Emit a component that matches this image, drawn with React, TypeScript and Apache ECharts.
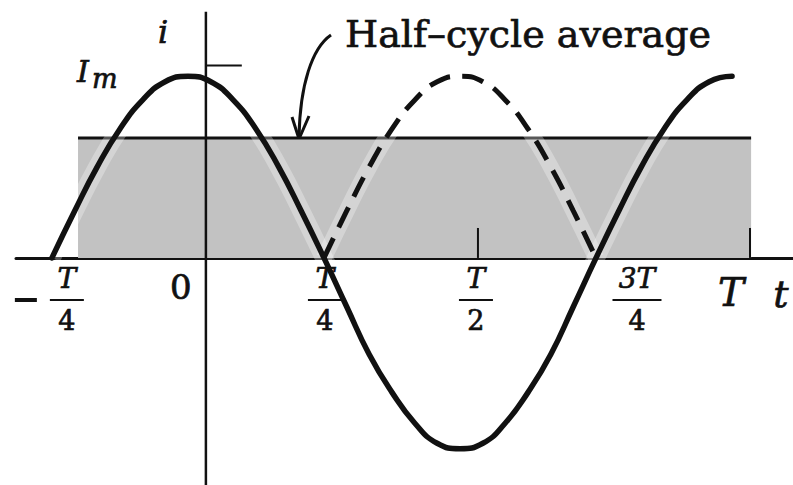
import { useEffect, useRef } from 'react';
import * as echarts from 'echarts';

// Time in periods (T), current in units of the peak value Im.
const waveTimes = [
  -0.283, -0.241, -0.2, -0.158, -0.116, -0.075, -0.033, 0.009, 0.05, 0.092, 0.134,
  0.175, 0.217, 0.259, 0.3, 0.342, 0.384, 0.425, 0.467, 0.509, 0.55, 0.592,
  0.634, 0.675, 0.717, 0.759, 0.8, 0.842, 0.884, 0.925, 0.967,
];
const waveCurrents = [
  0, 0.26, 0.5, 0.71, 0.87, 0.97, 1.0, 0.97, 0.87, 0.71, 0.5,
  0.26, 0, -0.27, -0.53, -0.74, -0.91, -1.02, -1.05, -1.02, -0.91, -0.74,
  -0.53, -0.27, 0, 0.26, 0.5, 0.71, 0.87, 0.97, 1.0,
];

// Negative half-cycle flipped upward (drawn dashed).
const flippedTimes = [
  0.217, 0.259, 0.3, 0.342, 0.384, 0.425, 0.467, 0.509, 0.55, 0.592, 0.634, 0.675, 0.717,
];
const flippedCurrents = [0, 0.26, 0.5, 0.71, 0.87, 0.97, 1.0, 0.97, 0.87, 0.71, 0.5, 0.26, 0];

// Half-cycle average band.
const averageLevel = 0.66;
const averageStart = -0.235;
const averageEnd = 1.002;

// Peak marker on the i axis.
const peakMarkLevel = 1.06;
const peakMarkEnd = 0.066;

// Time-axis labels.
const tickValues = [-0.25, 0, 0.25, 0.5, 0.75, 1];
const tickSigns = ['−', '', '', '', '', ''];
const tickNumerators = ['T', '0', 'T', 'T', '3T', 'T'];
const tickDenominators = ['4', '', '4', '2', '4', ''];
// Short tick marks standing on the time axis.
const markedTicks = [0.5, 1];
const markedTickHeight = 0.165;

// Axis extents.
const X_MIN = -0.349;
const X_MAX = 1.079;
const Y_MIN = -1.25;
const Y_MAX = 1.42;
const I_AXIS_TOP = 1.355;

const INK = '#111111';
const SERIF = '"DejaVu Serif", "Liberation Serif", serif';
// a faint outline thickens the glyphs a little
const HEAVY = { stroke: INK, lineWidth: 0.7 };

// Horizontal nudges (px) of each time label relative to its tick.
const labelShift = [-3, -25, -17, -2, 23, -19];

export default function App() {
  const ref = useRef<HTMLDivElement>(null);

  useEffect(() => {
    if (!ref.current) return;
    const chart = echarts.init(ref.current, undefined, { renderer: 'svg' });

    const wave = waveTimes.map((t, i) => [t, waveCurrents[i]]);
    const flipped = flippedTimes.map((t, i) => [t, flippedCurrents[i]]);

    const txt = (text: string, font: string, align = 'center') => ({
      text,
      font,
      fill: INK,
      ...HEAVY,
      align,
      verticalAlign: 'middle',
    });

    chart.setOption({
      animation: false,
      backgroundColor: '#ffffff',
      grid: { left: 16, right: 0, top: 0, bottom: 0, outerBoundsMode: 'none' },
      xAxis: {
        type: 'value',
        min: X_MIN,
        max: X_MAX,
        axisLine: { show: true, onZero: true, lineStyle: { color: INK, width: 3 } },
        axisTick: { show: false },
        axisLabel: { show: false },
        splitLine: { show: false },
      },
      yAxis: {
        type: 'value',
        min: Y_MIN,
        max: Y_MAX,
        axisLine: { show: false },
        axisTick: { show: false },
        axisLabel: { show: false },
        splitLine: { show: false },
      },
      series: [
        {
          // shaded average band with its top edge
          type: 'custom',
          silent: true,
          z: 1,
          clip: false,
          encode: { x: [0, 1], y: 2 },
          data: [[averageStart, averageEnd, averageLevel]],
          renderItem: (_p: any, api: any) => {
            const a = api.coord([api.value(0), api.value(2)]);
            const b = api.coord([api.value(1), 0]);
            return {
              type: 'group',
              children: [
                {
                  type: 'rect',
                  shape: { x: a[0], y: a[1], width: b[0] - a[0], height: b[1] - a[1] },
                  style: { fill: '#c2c2c2' },
                },
                {
                  type: 'line',
                  shape: { x1: a[0], y1: a[1], x2: b[0], y2: a[1] },
                  style: { stroke: INK, lineWidth: 3 },
                },
              ],
            };
          },
        },
        {
          type: 'line',
          silent: true,
          z: 2,
          smooth: true,
          showSymbol: false,
          data: wave,
          lineStyle: { color: 'rgba(255,255,255,0.3)', width: 18 },
        },
        {
          type: 'line',
          silent: true,
          z: 2,
          smooth: true,
          showSymbol: false,
          data: flipped,
          lineStyle: { color: 'rgba(255,255,255,0.3)', width: 16 },
        },
        {
          // i axis and peak marker
          type: 'line',
          silent: true,
          z: 3,
          showSymbol: false,
          data: [[0, I_AXIS_TOP], [0, Y_MIN]],
          lineStyle: { color: INK, width: 2.5 },
        },
        {
          type: 'line',
          silent: true,
          z: 3,
          showSymbol: false,
          data: [[0, peakMarkLevel], [peakMarkEnd, peakMarkLevel]],
          lineStyle: { color: INK, width: 2 },
        },
        {
          // short ticks on the time axis
          type: 'custom',
          silent: true,
          z: 3,
          clip: false,
          data: markedTicks.map((t) => [t, markedTickHeight]),
          renderItem: (_p: any, api: any) => {
            const top = api.coord([api.value(0), api.value(1)]);
            const base = api.coord([api.value(0), 0]);
            return {
              type: 'line',
              shape: { x1: top[0], y1: top[1], x2: base[0], y2: base[1] },
              style: { stroke: INK, lineWidth: 2 },
            };
          },
        },
        {
          type: 'line',
          name: 'i',
          silent: true,
          z: 4,
          smooth: true,
          showSymbol: false,
          data: wave,
          lineStyle: { color: INK, width: 5.5, cap: 'round' },
        },
        {
          type: 'line',
          name: '|i|',
          silent: true,
          z: 4,
          smooth: true,
          showSymbol: false,
          data: flipped,
          lineStyle: { color: INK, width: 5, type: [22, 12], cap: 'butt' },
        },
        {
          // time-axis labels written as fractions
          type: 'custom',
          silent: true,
          z: 5,
          clip: false,
          data: tickValues.map((t) => [t, 0]),
          renderItem: (params: any, api: any) => {
            const i = params.dataIndex;
            const p = api.coord([api.value(0), 0]);
            const cx = p[0] + labelShift[i];
            const y0 = p[1];
            const num = tickNumerators[i];
            const den = tickDenominators[i];
            const italic = num.indexOf('T') >= 0;
            const children: any[] = [];
            if (den) {
              const barW = num.length > 1 ? 49 : 34;
              children.push(
                { type: 'text', x: cx, y: y0 + 21, style: txt(num, `italic 28px ${SERIF}`) },
                {
                  type: 'line',
                  shape: { x1: cx - barW / 2, y1: y0 + 42, x2: cx + barW / 2, y2: y0 + 42 },
                  style: { stroke: INK, lineWidth: 2 },
                },
                { type: 'text', x: cx, y: y0 + 63, style: txt(den, `27px ${SERIF}`) },
              );
            } else {
              children.push({
                type: 'text',
                x: cx,
                y: y0 + (italic ? 35 : 29),
                style: txt(num, `${italic ? 'italic 39px' : '34px'} ${SERIF}`),
              });
            }
            if (tickSigns[i]) {
              children.push({
                type: 'rect',
                shape: { x: cx - 52, y: y0 + 40, width: 22, height: 4 },
                style: { fill: INK },
              });
            }
            return { type: 'group', children };
          },
        },
      ],
      graphic: [
        { type: 'text', x: 163, y: 32, style: txt('i', `italic 32px ${SERIF}`) },
        { type: 'text', x: 77, y: 71, style: txt('I', `italic 30px ${SERIF}`, 'left') },
        { type: 'text', x: 92, y: 78, style: txt('m', `italic 27px ${SERIF}`, 'left') },
        { type: 'text', x: 345, y: 34, style: txt('Half–cycle average', `38px ${SERIF}`, 'left') },
        {
          type: 'bezierCurve',
          shape: { x1: 331, y1: 35, cpx1: 312, cpy1: 48, cpx2: 300, cpy2: 85, x2: 299, y2: 137 },
          style: { stroke: INK, lineWidth: 3, fill: null },
        },
        {
          type: 'polyline',
          shape: { points: [[292, 117], [299, 139], [309, 116]] },
          style: { stroke: INK, lineWidth: 3, fill: null },
        },
        { type: 'text', x: 781, y: 294, style: txt('t', `italic 38px ${SERIF}`) },
      ],
    });

    return () => chart.dispose();
  }, []);

  return (
    <div
      ref={ref}
      style={{ position: 'absolute', left: 0, top: 0, width: 793, height: 485, background: '#ffffff' }}
    />
  );
}
